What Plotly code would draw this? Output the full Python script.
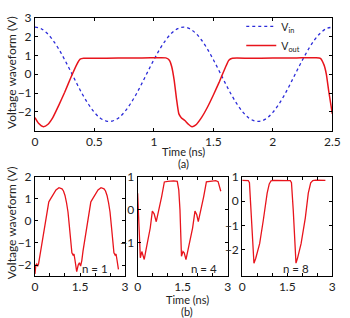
import plotly.graph_objects as go

# ---------- data ----------
# (a) top panel
t_in = [0, 0.05, 0.1, 0.15, 0.2, 0.25, 0.3, 0.35, 0.4, 0.45, 0.5, 0.55, 0.6, 0.65, 0.7, 0.75, 0.8, 0.85, 0.9, 0.95,
        1.0, 1.05, 1.1, 1.15, 1.2, 1.25, 1.3, 1.35, 1.4, 1.45, 1.5, 1.55, 1.6, 1.65, 1.7, 1.75, 1.8, 1.85, 1.9, 1.95,
        2.0, 2.05, 2.1, 2.15, 2.2, 2.25, 2.3, 2.35, 2.4, 2.45, 2.5]
v_in = [2.5, 2.42, 2.19, 1.82, 1.34, 0.77, 0.16, -0.47, -1.07, -1.59, -2.02, -2.33, -2.48, -2.48, -2.33, -2.02,
        -1.59, -1.07, -0.47, 0.16, 0.77, 1.34, 1.82, 2.19, 2.42, 2.5, 2.42, 2.19, 1.82, 1.34, 0.77, 0.16, -0.47,
        -1.07, -1.59, -2.02, -2.33, -2.48, -2.48, -2.33, -2.02, -1.59, -1.07, -0.47, 0.16, 0.77, 1.34, 1.82, 2.19,
        2.42, 2.5]

t_out = [0, 0.03, 0.07, 0.11, 0.15, 0.2, 0.25, 0.3, 0.35, 0.38, 0.41, 0.5, 0.7, 0.9, 1.05, 1.1, 1.13, 1.15, 1.17,
         1.19, 1.21, 1.23, 1.26, 1.29, 1.32, 1.35, 1.4, 1.45, 1.5, 1.55, 1.6, 1.63, 1.66, 1.8, 2.0, 2.2, 2.36,
         2.4, 2.43, 2.45, 2.47, 2.5]
v_out = [-2.3, -2.6, -2.78, -2.65, -2.3, -1.65, -0.95, -0.2, 0.5, 0.8, 0.85, 0.85, 0.86, 0.87, 0.88, 0.87, 0.75,
         0.4, -0.3, -1.3, -2.1, -2.3, -2.45, -2.65, -2.78, -2.7, -2.3, -1.75, -1.1, -0.4, 0.35, 0.75, 0.85, 0.85,
         0.86, 0.87, 0.88, 0.85, 0.5, 0.0, -0.9, -2.1]

# (b) bottom panels
t_n1 = [0, 0.03, 0.06, 0.09, 0.12, 0.2, 0.3, 0.4, 0.46, 0.5, 0.6, 0.7, 0.8, 0.9, 0.95, 1.0, 1.05, 1.1, 1.15, 1.2,
        1.23, 1.27, 1.3, 1.33, 1.39, 1.44, 1.48, 1.52, 1.56, 1.6, 1.7, 1.8, 1.86, 1.9, 2.0, 2.1, 2.2, 2.3, 2.35,
        2.4, 2.45, 2.5, 2.55, 2.6, 2.63, 2.67, 2.7, 2.73, 2.78]
v_n1 = [-2.4, -2.0, -1.95, -2.05, -1.95, -1.29, -0.47, 0.36, 0.85, 0.95, 1.2, 1.4, 1.5, 1.45, 1.35, 1.15, 0.83,
        0.4, -0.3, -1.0, -1.45, -1.55, -1.5, -1.75, -2.3, -2.0, -1.9, -2.05, -1.8, -1.37, -0.52, 0.34, 0.85, 0.95,
        1.2, 1.4, 1.5, 1.45, 1.35, 1.15, 0.83, 0.4, -0.3, -1.0, -1.45, -1.55, -1.5, -1.75, -2.2]

t_n4 = [0, 0.04, 0.09, 0.14, 0.22, 0.28, 0.35, 0.42, 0.49, 0.55, 0.62, 0.7, 0.8, 0.89, 1.0, 1.2, 1.32, 1.37, 1.41,
        1.46, 1.51, 1.55, 1.61, 1.68, 1.75, 1.83, 1.91, 1.97, 2.02, 2.1, 2.2, 2.29, 2.4, 2.6, 2.68, 2.72, 2.77]
v_n4 = [0.5, -0.6, -1.45, -1.26, -1.5, -1.2, -0.87, -0.55, -0.04, -0.12, -0.36, -0.05, 0.4, 0.84, 0.86, 0.87, 0.86,
        0.6, 0.0, -1.4, -1.26, -1.3, -1.5, -1.2, -0.9, -0.55, -0.04, -0.15, -0.36, -0.05, 0.4, 0.84, 0.86, 0.88,
        0.85, 0.7, 0.56]

t_n8 = [0, 0.1, 0.16, 0.2, 0.24, 0.3, 0.35, 0.39, 0.45, 0.5, 0.58, 0.7, 0.83, 0.9, 0.96, 1.05, 1.3, 1.5, 1.56, 1.6,
        1.64, 1.7, 1.75, 1.79, 1.84, 1.88, 1.96, 2.1, 2.2, 2.28, 2.35, 2.45, 2.77]
v_n8 = [0.85, 0.85, 0.84, 0.84, 0.75, -0.4, -1.6, -2.55, -2.35, -2.15, -1.75, -0.8, 0.32, 0.7, 0.83, 0.85, 0.86,
        0.85, 0.84, 0.84, 0.75, -0.4, -1.6, -2.55, -2.35, -2.15, -1.75, -0.7, 0.32, 0.75, 0.84, 0.86, 0.85]

top_xticks = [0, 0.5, 1, 1.5, 2, 2.5]
top_yticks = [-2, -1, 0, 1, 2, 3]
bot_xticks = [0, 1.5, 3]
bot_xlabels = ["0", "1.5", "3"]
n_labels = ["n = 1", "n = 4", "n = 8"]

# ---------- figure ----------
W, H = 350, 318
FONT = "Lato"
TXT = "#222"
RED = "#e8141c"
BLUE = "#2b2bd9"

def px(x):
    return x / W

def py(y):
    return 1 - y / H

fig = go.Figure()
fig.add_trace(go.Scatter(x=t_in, y=v_in, mode="lines", name="V<sub>in</sub>",
                         line=dict(color=BLUE, width=1.3, dash="dot", shape="spline"), xaxis="x", yaxis="y"))
fig.add_trace(go.Scatter(x=t_out, y=v_out, mode="lines", name="V<sub>out</sub>",
                         line=dict(color=RED, width=1.5, shape="spline", smoothing=0.5), xaxis="x", yaxis="y"))
for i, (tt, vv) in enumerate([(t_n1, v_n1), (t_n4, v_n4), (t_n8, v_n8)]):
    fig.add_trace(go.Scatter(x=tt, y=vv, mode="lines", showlegend=False, line=dict(color=RED, width=1.3),
                             xaxis="x%d" % (i + 2), yaxis="y%d" % (i + 2)))

axis_common = dict(showline=True, linecolor="black", linewidth=1, mirror="ticks", ticks="inside", ticklen=3,
                   tickcolor="black", showgrid=False, zeroline=False, tickfont=dict(family=FONT, size=12, color=TXT))

layout = dict(width=W, height=H, margin=dict(l=0, r=0, t=0, b=0), paper_bgcolor="white", plot_bgcolor="white",
              font=dict(family=FONT, size=12, color=TXT), showlegend=True,
              legend=dict(x=px(246), y=py(4), xanchor="left", yanchor="top", bgcolor="rgba(0,0,0,0)",
                          font=dict(family=FONT, size=10.5, color=TXT), tracegroupgap=0))

layout["xaxis"] = dict(axis_common, domain=[px(33), px(340)], range=[0, 2.5], tickvals=top_xticks, anchor="y")
layout["yaxis"] = dict(axis_common, domain=[py(126), py(10)], range=[-3, 3], tickvals=top_yticks, anchor="x")

bx = [(33, 126), (139, 232), (247, 340)]
by_ranges = [[-2.5, 2], [-2, 1], [-3.08, 1]]
by_ticks = [[-2, -1, 0, 1, 2], [-1, 0, 1], [-2, -1, 0, 1]]
for i in range(3):
    layout["xaxis%d" % (i + 2)] = dict(axis_common, domain=[px(bx[i][0]), px(bx[i][1])], range=[0, 3],
                                       tickvals=bot_xticks, ticktext=bot_xlabels, anchor="y%d" % (i + 2),
                                       minor=dict(dtick=0.5, tick0=0, ticks="inside", ticklen=3, tickcolor="black"))
    layout["yaxis%d" % (i + 2)] = dict(axis_common, domain=[py(275), py(173)], range=by_ranges[i],
                                       tickvals=by_ticks[i], anchor="x%d" % (i + 2))

fig.update_layout(**layout)

ann = []
def text(x, y, s, size=12, angle=0):
    ann.append(dict(x=px(x), y=py(y), xref="paper", yref="paper", text=s, showarrow=False, textangle=angle,
                    font=dict(family=FONT, size=size, color=TXT), xanchor="center", yanchor="middle"))

text(9, 66, "Voltage waveform (V)", 12, -90)
text(9, 220, "Voltage waveform (V)", 12, -90)
text(186, 147, "Time (ns)", 11)
text(186, 160, "(a)", 11)
text(190, 299, "Time (ns)", 11)
text(190, 311, "(b)", 11)
for i, cx in enumerate([95, 208, 303]):
    text(cx, 267, n_labels[i], 11.5)

fig.update_layout(annotations=ann)
fig.write_html("out.html")
